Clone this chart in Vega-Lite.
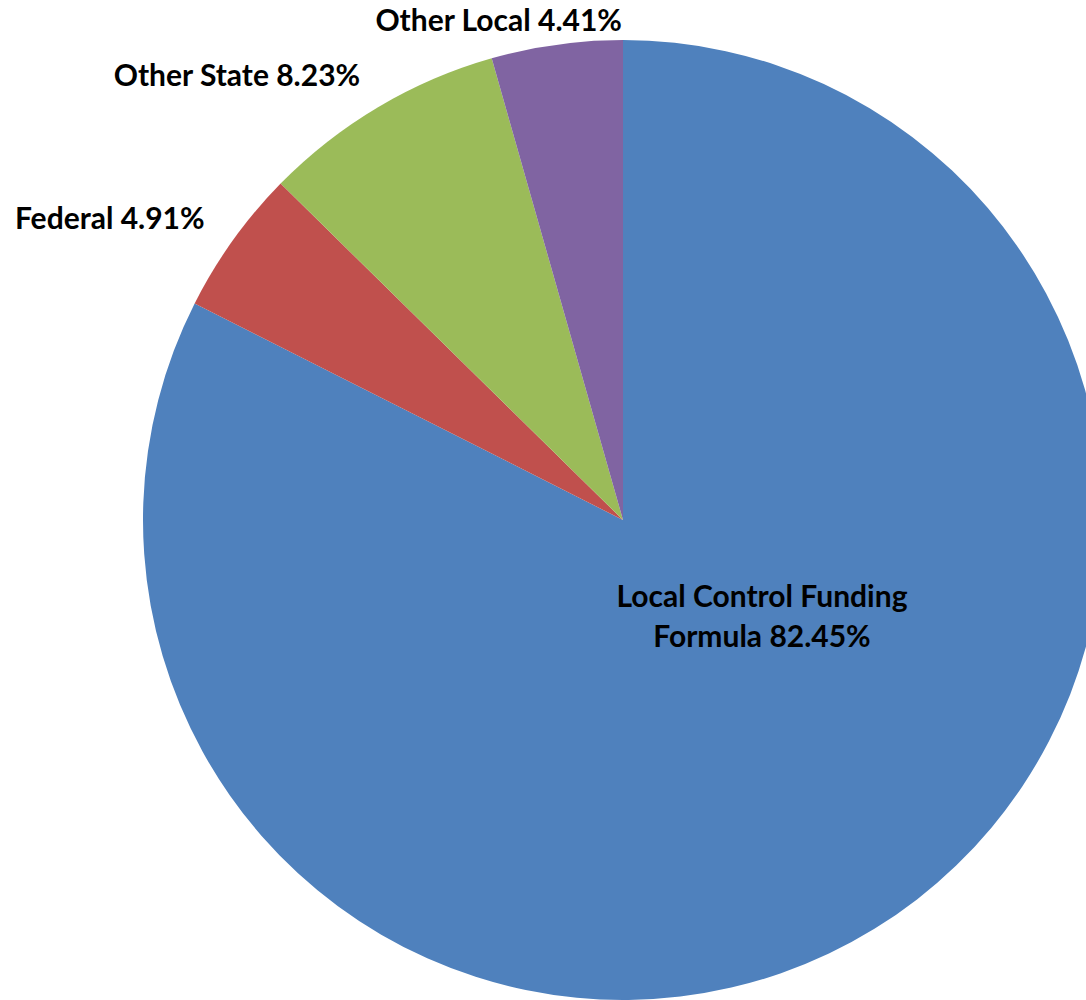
{
  "$schema": "https://vega.github.io/schema/vega-lite/v6.json",
  "width": 926,
  "height": 960,
  "padding": {"left": 160, "top": 40, "right": 0, "bottom": 0},
  "autosize": {"type": "none"},
  "background": "white",
  "data": {"values": [
    {"source": "Local Control Funding Formula", "label": "Local Control Funding\nFormula 82.45%", "pct": 82.45, "order": 1},
    {"source": "Federal", "label": "Federal 4.91%", "pct": 4.91, "order": 2},
    {"source": "Other State", "label": "Other State 8.23%", "pct": 8.23, "order": 3},
    {"source": "Other Local", "label": "Other Local 4.41%", "pct": 4.41, "order": 4}
  ]},
  "encoding": {
    "theta": {"field": "pct", "type": "quantitative", "stack": true},
    "order": {"field": "order", "type": "quantitative"}
  },
  "layer": [
    {
      "mark": {"type": "arc", "outerRadius": 480, "stroke": null},
      "encoding": {
        "color": {
          "field": "source", "type": "nominal", "legend": null,
          "scale": {
            "domain": ["Local Control Funding Formula", "Federal", "Other State", "Other Local"],
            "range": ["#4F81BD", "#C0504D", "#9BBB59", "#8064A2"]
          }
        }
      }
    },
    {
      "mark": {"type": "text", "radius": 515, "align": "right", "baseline": "middle", "font": "Lato", "fontWeight": "bold", "fontSize": 30, "color": "black"},
      "encoding": {
        "text": {"field": "label"},
        "opacity": {"condition": {"test": "datum.source == 'Federal' || datum.source == 'Other State'", "value": 1}, "value": 0}
      }
    },
    {
      "mark": {"type": "text", "radius": 500, "align": "right", "baseline": "middle", "dx": 68, "dy": -3, "font": "Lato", "fontWeight": "bold", "fontSize": 30, "color": "black"},
      "encoding": {
        "text": {"field": "label"},
        "opacity": {"condition": {"test": "datum.source == 'Other Local'", "value": 1}, "value": 0}
      }
    },
    {
      "mark": {"type": "text", "radius": 0, "align": "center", "baseline": "middle", "dx": 139, "dy": 78, "lineBreak": "\n", "lineHeight": 40, "font": "Lato", "fontWeight": "bold", "fontSize": 30, "color": "black"},
      "encoding": {
        "text": {"field": "label"},
        "opacity": {"condition": {"test": "datum.source == 'Local Control Funding Formula'", "value": 1}, "value": 0}
      }
    }
  ],
  "config": {"view": {"stroke": null}}
}
